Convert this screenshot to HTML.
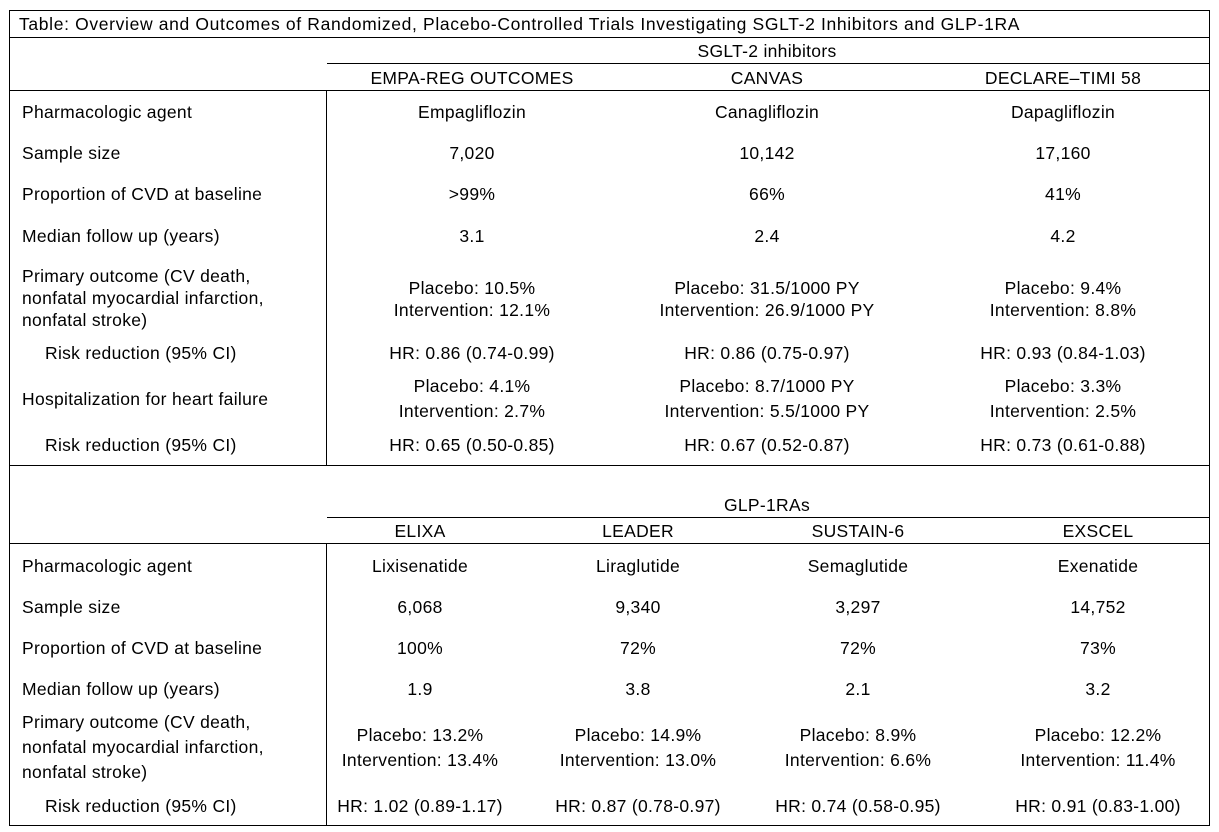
<!DOCTYPE html>
<html><head><meta charset="utf-8"><style>
body{margin:0;width:1219px;height:832px;background:#fff;position:relative;font-family:"Liberation Sans",Arial,sans-serif;font-size:17.5px;letter-spacing:0.3px;color:#000;overflow:hidden}
.l{position:absolute;background:#000}
.t{position:absolute;white-space:nowrap;line-height:20px;transform:translateY(-10px)}
.c{position:absolute;white-space:nowrap;line-height:20px;transform:translate(-50%,-10px);text-align:center}
</style></head><body>
<div class="l" style="left:9px;top:10px;width:1201px;height:1px"></div>
<div class="l" style="left:9px;top:825px;width:1201px;height:1px"></div>
<div class="l" style="left:9px;top:10px;width:1px;height:816px"></div>
<div class="l" style="left:1209px;top:10px;width:1px;height:816px"></div>
<div class="l" style="left:9px;top:37px;width:1201px;height:1px"></div>
<div class="l" style="left:327px;top:63px;width:883px;height:1px"></div>
<div class="l" style="left:9px;top:90px;width:1201px;height:1px"></div>
<div class="l" style="left:326px;top:90px;width:1px;height:375px"></div>
<div class="l" style="left:9px;top:465px;width:1201px;height:1px"></div>
<div class="l" style="left:327px;top:517px;width:883px;height:1px"></div>
<div class="l" style="left:9px;top:543px;width:1201px;height:1px"></div>
<div class="l" style="left:326px;top:543px;width:1px;height:283px"></div>

<div class="t" style="left:19px;top:24px;font-size:17.5px;letter-spacing:0.65px">Table: Overview and Outcomes of Randomized, Placebo-Controlled Trials Investigating SGLT-2 Inhibitors and GLP-1RA</div>
<div class="c" style="left:767px;top:51px">SGLT-2 inhibitors</div>
<div class="c" style="left:472px;top:78px">EMPA-REG OUTCOMES</div>
<div class="c" style="left:767px;top:78px">CANVAS</div>
<div class="c" style="left:1063px;top:78px">DECLARE–TIMI 58</div>

<div class="t" style="left:22px;top:112px">Pharmacologic agent</div>
<div class="t" style="left:22px;top:153px">Sample size</div>
<div class="t" style="left:22px;top:194px">Proportion of CVD at baseline</div>
<div class="t" style="left:22px;top:236px">Median follow up (years)</div>
<div class="t" style="left:22px;top:276px">Primary outcome (CV death,</div>
<div class="t" style="left:22px;top:298px">nonfatal myocardial infarction,</div>
<div class="t" style="left:22px;top:320px">nonfatal stroke)</div>
<div class="t" style="left:45px;top:353px">Risk reduction (95% CI)</div>
<div class="t" style="left:22px;top:399px">Hospitalization for heart failure</div>
<div class="t" style="left:45px;top:445px">Risk reduction (95% CI)</div>

<div class="c" style="left:472px;top:112px">Empagliflozin</div>
<div class="c" style="left:767px;top:112px">Canagliflozin</div>
<div class="c" style="left:1063px;top:112px">Dapagliflozin</div>
<div class="c" style="left:472px;top:153px">7,020</div>
<div class="c" style="left:767px;top:153px">10,142</div>
<div class="c" style="left:1063px;top:153px">17,160</div>
<div class="c" style="left:472px;top:194px">&gt;99%</div>
<div class="c" style="left:767px;top:194px">66%</div>
<div class="c" style="left:1063px;top:194px">41%</div>
<div class="c" style="left:472px;top:236px">3.1</div>
<div class="c" style="left:767px;top:236px">2.4</div>
<div class="c" style="left:1063px;top:236px">4.2</div>
<div class="c" style="left:472px;top:288px">Placebo: 10.5%</div>
<div class="c" style="left:472px;top:310px">Intervention: 12.1%</div>
<div class="c" style="left:767px;top:288px">Placebo: 31.5/1000 PY</div>
<div class="c" style="left:767px;top:310px">Intervention: 26.9/1000 PY</div>
<div class="c" style="left:1063px;top:288px">Placebo: 9.4%</div>
<div class="c" style="left:1063px;top:310px">Intervention: 8.8%</div>
<div class="c" style="left:472px;top:353px">HR: 0.86 (0.74-0.99)</div>
<div class="c" style="left:767px;top:353px">HR: 0.86 (0.75-0.97)</div>
<div class="c" style="left:1063px;top:353px">HR: 0.93 (0.84-1.03)</div>
<div class="c" style="left:472px;top:386px">Placebo: 4.1%</div>
<div class="c" style="left:472px;top:411px">Intervention: 2.7%</div>
<div class="c" style="left:767px;top:386px">Placebo: 8.7/1000 PY</div>
<div class="c" style="left:767px;top:411px">Intervention: 5.5/1000 PY</div>
<div class="c" style="left:1063px;top:386px">Placebo: 3.3%</div>
<div class="c" style="left:1063px;top:411px">Intervention: 2.5%</div>
<div class="c" style="left:472px;top:445px">HR: 0.65 (0.50-0.85)</div>
<div class="c" style="left:767px;top:445px">HR: 0.67 (0.52-0.87)</div>
<div class="c" style="left:1063px;top:445px">HR: 0.73 (0.61-0.88)</div>

<div class="c" style="left:767px;top:505px">GLP-1RAs</div>
<div class="c" style="left:420px;top:531px">ELIXA</div>
<div class="c" style="left:638px;top:531px">LEADER</div>
<div class="c" style="left:858px;top:531px">SUSTAIN-6</div>
<div class="c" style="left:1098px;top:531px">EXSCEL</div>

<div class="t" style="left:22px;top:566px">Pharmacologic agent</div>
<div class="t" style="left:22px;top:607px">Sample size</div>
<div class="t" style="left:22px;top:648px">Proportion of CVD at baseline</div>
<div class="t" style="left:22px;top:689px">Median follow up (years)</div>
<div class="t" style="left:22px;top:722px">Primary outcome (CV death,</div>
<div class="t" style="left:22px;top:747px">nonfatal myocardial infarction,</div>
<div class="t" style="left:22px;top:772px">nonfatal stroke)</div>
<div class="t" style="left:45px;top:806px">Risk reduction (95% CI)</div>

<div class="c" style="left:420px;top:566px">Lixisenatide</div>
<div class="c" style="left:638px;top:566px">Liraglutide</div>
<div class="c" style="left:858px;top:566px">Semaglutide</div>
<div class="c" style="left:1098px;top:566px">Exenatide</div>
<div class="c" style="left:420px;top:607px">6,068</div>
<div class="c" style="left:638px;top:607px">9,340</div>
<div class="c" style="left:858px;top:607px">3,297</div>
<div class="c" style="left:1098px;top:607px">14,752</div>
<div class="c" style="left:420px;top:648px">100%</div>
<div class="c" style="left:638px;top:648px">72%</div>
<div class="c" style="left:858px;top:648px">72%</div>
<div class="c" style="left:1098px;top:648px">73%</div>
<div class="c" style="left:420px;top:689px">1.9</div>
<div class="c" style="left:638px;top:689px">3.8</div>
<div class="c" style="left:858px;top:689px">2.1</div>
<div class="c" style="left:1098px;top:689px">3.2</div>
<div class="c" style="left:420px;top:735px">Placebo: 13.2%</div>
<div class="c" style="left:420px;top:760px">Intervention: 13.4%</div>
<div class="c" style="left:638px;top:735px">Placebo: 14.9%</div>
<div class="c" style="left:638px;top:760px">Intervention: 13.0%</div>
<div class="c" style="left:858px;top:735px">Placebo: 8.9%</div>
<div class="c" style="left:858px;top:760px">Intervention: 6.6%</div>
<div class="c" style="left:1098px;top:735px">Placebo: 12.2%</div>
<div class="c" style="left:1098px;top:760px">Intervention: 11.4%</div>
<div class="c" style="left:420px;top:806px">HR: 1.02 (0.89-1.17)</div>
<div class="c" style="left:638px;top:806px">HR: 0.87 (0.78-0.97)</div>
<div class="c" style="left:858px;top:806px">HR: 0.74 (0.58-0.95)</div>
<div class="c" style="left:1098px;top:806px">HR: 0.91 (0.83-1.00)</div>
</body></html>
